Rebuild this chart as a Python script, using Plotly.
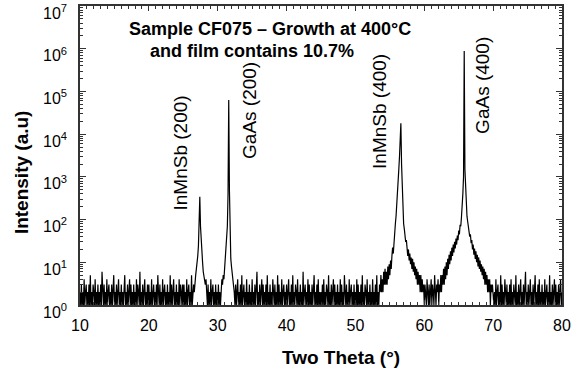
import plotly.graph_objects as go

# Scan grid (degrees two-theta)
two_theta_start = 10.0
two_theta_step = 0.1

# Intensity counts; each row covers 2.5 degrees (25 points)
counts = (
    [2, 1, 3, 1, 2, 1, 4, 1, 2, 3, 1, 2, 1, 3, 1, 5, 1, 2, 1, 3, 2, 1, 4, 1, 2]          # 10.0
    + [1, 3, 1, 2, 1, 3, 1, 6, 2, 1, 3, 1, 2, 1, 4, 1, 2, 3, 1, 2, 1, 3, 1, 2, 5]        # 12.5
    + [1, 2, 1, 3, 1, 2, 4, 1, 2, 1, 3, 1, 2, 1, 3, 5, 1, 2, 1, 3, 1, 2, 4, 1, 3]        # 15.0
    + [1, 2, 1, 3, 1, 2, 1, 4, 1, 3, 2, 1, 6, 1, 2, 1, 3, 1, 2, 4, 1, 2, 1, 3, 1]        # 17.5
    + [3, 1, 2, 1, 4, 1, 2, 3, 1, 2, 1, 3, 1, 5, 2, 1, 3, 1, 2, 1, 4, 1, 2, 3, 1]        # 20.0
    + [2, 1, 3, 1, 2, 1, 5, 1, 3, 1, 2, 4, 1, 2, 1, 3, 1, 2, 1, 4, 1, 3, 2, 1, 3]        # 22.5
    + [1, 3, 1, 2, 1, 4, 1, 2, 3, 1, 2, 1, 5, 1, 2, 3, 2, 4, 5, 7, 9, 14, 24, 60, 340]   # 25.0
    + [70, 28, 15, 10, 6, 5, 4, 3, 4, 2, 1, 3, 1, 2, 1, 4, 1, 2, 3, 1, 2, 1, 3, 1, 2]    # 27.5
    + [1, 3, 1, 2, 1, 3, 4, 3, 5, 4, 7, 9, 15, 30, 70, 400, 63000, 500, 40, 12, 8, 6, 4, 3, 2]  # 30.0
    + [1, 3, 1, 2, 4, 1, 2, 1, 3, 1, 5, 1, 2, 3, 1, 2, 1, 4, 1, 2, 1, 3, 1, 2, 1]        # 32.5
    + [4, 1, 2, 1, 3, 1, 2, 6, 1, 2, 1, 3, 1, 2, 4, 1, 3, 1, 2, 1, 3, 1, 5, 1, 2]        # 35.0
    + [1, 3, 1, 2, 1, 4, 2, 1, 3, 1, 2, 1, 5, 1, 3, 1, 2, 1, 4, 1, 2, 3, 1, 2, 1]        # 37.5
    + [3, 1, 2, 4, 1, 2, 1, 3, 1, 5, 1, 2, 1, 3, 2, 1, 4, 1, 2, 1, 3, 1, 2, 1, 6]        # 40.0
    + [1, 2, 3, 1, 2, 1, 4, 1, 3, 1, 2, 1, 3, 1, 2, 5, 1, 2, 1, 3, 1, 4, 1, 2, 1]        # 42.5
    + [2, 1, 3, 1, 4, 1, 2, 1, 3, 2, 1, 5, 1, 2, 1, 3, 1, 2, 4, 1, 3, 1, 2, 1, 3]        # 45.0
    + [1, 2, 1, 4, 1, 3, 1, 2, 1, 5, 2, 1, 3, 1, 2, 1, 4, 1, 2, 3, 1, 2, 1, 3, 1]        # 47.5
    + [2, 1, 4, 1, 3, 1, 2, 1, 3, 1, 5, 1, 2, 1, 3, 2, 1, 4, 1, 2, 1, 3, 1, 2, 1]        # 50.0
    + [4, 1, 2, 1, 3, 1, 5, 1, 2, 1, 3, 2, 5, 2, 4, 2, 6, 3, 7, 3, 6, 3, 8, 4, 9]        # 52.5
    + [5, 11, 7, 14, 22, 16, 35, 45, 80, 120, 200, 350, 700, 1500, 3000, 8000, 18000,
       2000, 400, 150, 80, 60, 45, 30, 33]                                                # 55.0
    + [25, 14, 20, 11, 16, 9, 13, 7, 12, 6, 10, 5, 8, 4, 7, 3, 6, 3, 5, 2, 5, 2, 4, 2, 3]  # 57.5
    + [1, 3, 2, 1, 4, 2, 1, 3, 1, 2, 4, 1, 3, 2, 1, 5, 2, 1, 3, 2, 4, 1, 3, 2, 5]        # 60.0
    + [2, 5, 3, 7, 3, 8, 4, 10, 5, 12, 7, 15, 9, 18, 11, 22, 14, 26, 17, 30, 21, 36, 26, 42, 33]  # 62.5
    + [55, 45, 75, 70, 115, 180, 400, 1000, 890000, 1500, 600, 200, 120, 90, 70, 60, 40,
       45, 28, 33, 20, 26, 15, 21, 12]                                                    # 65.0
    + [18, 10, 15, 8, 13, 7, 11, 6, 9, 5, 8, 4, 7, 3, 6, 3, 5, 2, 4, 2, 4, 1, 3, 2, 3]    # 67.5
    + [1, 1, 2, 1, 4, 1, 2, 3, 1, 2, 1, 5, 1, 3, 1, 2, 1, 4, 2, 1, 3, 1, 2, 1, 3]        # 70.0
    + [1, 4, 1, 2, 1, 3, 2, 1, 5, 1, 2, 1, 3, 1, 2, 4, 1, 2, 1, 3, 1, 2, 6, 1, 2]        # 72.5
    + [1, 3, 1, 2, 4, 1, 2, 1, 3, 1, 2, 5, 1, 2, 1, 3, 1, 4, 1, 2, 1, 3, 1, 2, 1]        # 75.0
    + [4, 1, 2, 3, 1, 2, 1, 5, 1, 2, 1, 3, 1, 2, 4, 1, 3, 1, 2, 1, 3, 1, 2, 4, 1]        # 77.5
    + [2]                                                                                 # 80.0
)
assert len(counts) == 701, len(counts)

two_theta = [round(two_theta_start + two_theta_step * i, 2) for i in range(len(counts))]

x_ticks = [10, 20, 30, 40, 50, 60, 70, 80]
y_exponents = [0, 1, 2, 3, 4, 5, 6, 7]

title_lines = ["Sample CF075 \u2013 Growth at 400\u00b0C", "and film contains 10.7%"]
peak_labels = ["InMnSb (200)", "GaAs (200)", "InMnSb (400)", "GaAs (400)"]

FONT = "Liberation Sans, Arial, sans-serif"
FRAME = "#333333"

fig = go.Figure()
fig.add_trace(go.Scatter(
    x=two_theta, y=counts, mode="lines",
    line=dict(color="#000000", width=1.2),
    showlegend=False, hoverinfo="skip",
))

y_minor = [m * 10 ** e for e in range(7) for m in range(2, 10)]

fig.update_layout(
    width=575, height=371,
    margin=dict(l=80, r=13, t=6, b=66, autoexpand=False),
    paper_bgcolor="white", plot_bgcolor="white",
    font=dict(family=FONT, color="black"),
    xaxis=dict(
        range=[10, 80], tickmode="array", tickvals=x_ticks,
        ticktext=[str(v) for v in x_ticks],
        ticks="inside", ticklen=5, tickcolor=FRAME, tickwidth=1,
        minor=dict(dtick=1, ticks="inside", ticklen=3, tickcolor=FRAME, showgrid=False),
        showline=True, linecolor=FRAME, linewidth=1.5, mirror="allticks",
        showgrid=False, zeroline=False, automargin=False,
        tickfont=dict(size=16, family=FONT, color="black"),
        ticklabelstandoff=5, ticklabeloverflow="allow",
    ),
    yaxis=dict(
        type="log", range=[0, 7], tickmode="array",
        tickvals=[10 ** e for e in y_exponents],
        ticktext=["10<sup>%d</sup>" % e for e in y_exponents],
        ticks="inside", ticklen=6, tickcolor=FRAME, tickwidth=1,
        minor=dict(tickmode="array", tickvals=y_minor, ticks="inside", ticklen=3,
                   tickcolor=FRAME, showgrid=False),
        showline=True, linecolor=FRAME, linewidth=1.5, mirror="allticks",
        showgrid=False, zeroline=False, automargin=False,
        tickfont=dict(size=16, family=FONT, color="black"),
        ticklabelstandoff=8, ticklabelshift=7, ticklabeloverflow="allow",
    ),
)

ann = []
# chart title lines
ann.append(dict(text="<b>%s</b>" % title_lines[0], x=0.394, y=0.923))
ann.append(dict(text="<b>%s</b>" % title_lines[1], x=0.357, y=0.849))
for a in ann:
    a.update(xref="paper", yref="paper", showarrow=False, xanchor="center",
             yanchor="middle", font=dict(size=18, family=FONT, color="black"))

peak_pos = [(0.2095, 0.510), (0.3527, 0.649), (0.6224, 0.649), (0.836, 0.736)]
for lab, (px, py) in zip(peak_labels, peak_pos):
    ann.append(dict(text=lab, x=px, y=py, xref="paper", yref="paper",
                    showarrow=False, textangle=-90, xanchor="center", yanchor="middle",
                    font=dict(size=19, family=FONT, color="black")))

# axis titles
ann.append(dict(text="<b>Two Theta (\u00b0)</b>", x=0.5415, y=-0.177, xref="paper", yref="paper",
                showarrow=False, xanchor="center", yanchor="middle",
                font=dict(size=19, family=FONT, color="black")))
ann.append(dict(text="<b>Intensity (a.u)</b>", x=-0.120, y=0.445, xref="paper", yref="paper",
                showarrow=False, textangle=-90, xanchor="center", yanchor="middle",
                font=dict(size=19, family=FONT, color="black")))

fig.update_layout(annotations=ann)
fig.write_html("out.html")
